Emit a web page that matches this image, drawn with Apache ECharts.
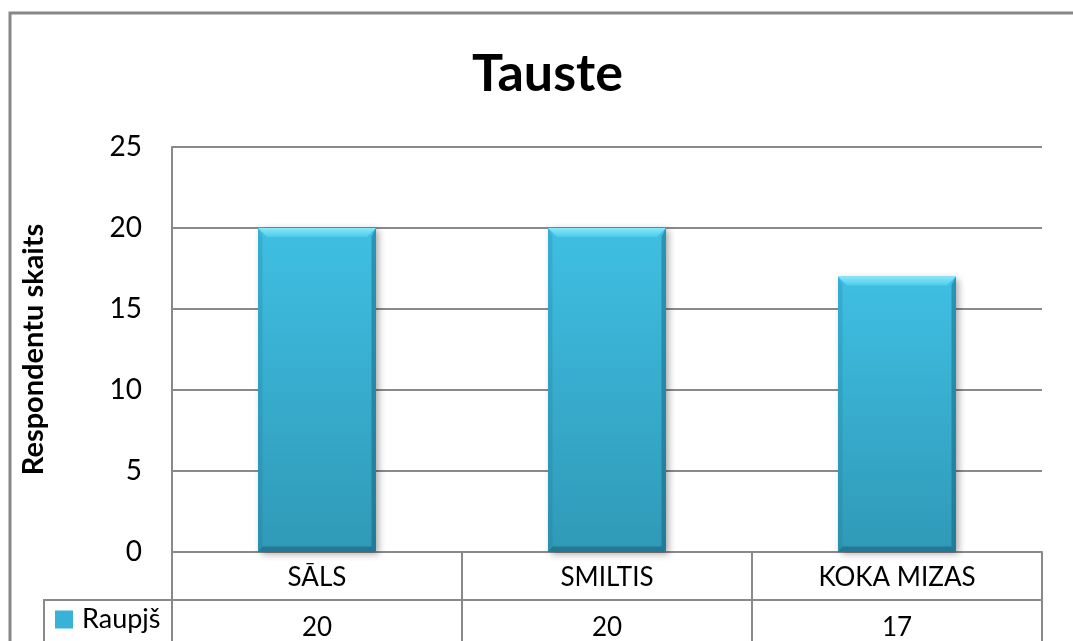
<!DOCTYPE html>
<html>
<head>
<meta charset="utf-8">
<script src="https://cdn.jsdelivr.net/npm/echarts@6/dist/echarts.min.js"></script>
<style>
  html, body { margin: 0; padding: 0; background: #ffffff; }
  #chart { width: 1073px; height: 641px; }
</style>
</head>
<body>
<div id="chart"></div>
<script>
// Chart content
const titleText = 'Tauste';
const yAxisTitle = 'Respondentu skaits';
const seriesName = 'Raupjš';
const categories = ['SĀLS', 'SMILTIS', 'KOKA MIZAS'];
const values = [20, 20, 17];
const yTicks = { min: 0, max: 25, interval: 5 };

const FONT = 'Lato, "Open Sans", sans-serif';
const LINE = '#898989';
const BAR_SHARE = 0.407;   // bar width as a share of the category band
const BEVEL = 9;           // bevel depth in px

const chart = echarts.init(document.getElementById('chart'), null, { renderer: 'canvas' });

// Bevelled column: a face plus four edge facets, all placed through the axes
function renderBevelBar(params, api) {
  const topPt = api.coord([api.value(0), api.value(1)]);
  const basePt = api.coord([api.value(0), 0]);
  const w = api.size([1, 0])[0] * BAR_SHARE;
  const l = topPt[0] - w / 2, r = topPt[0] + w / 2;
  const t = topPt[1], b = basePt[1];
  const d = Math.min(BEVEL, (b - t) / 2);
  const grad = (x0, y0, x1, y1, stops) => new echarts.graphic.LinearGradient(x0, y0, x1, y1, stops);
  return {
    type: 'group',
    children: [
      { type: 'rect', shape: { x: l, y: t, width: w, height: b - t },
        style: {
          fill: grad(0, 0, 0, 1, [{ offset: 0, color: '#3FBFE3' }, { offset: 1, color: '#3099B7' }]),
          shadowColor: 'rgba(0,0,0,0.35)', shadowBlur: 7, shadowOffsetX: 3, shadowOffsetY: 2
        } },
      { type: 'polygon', shape: { points: [[l, t], [r, t], [r - d, t + d], [l + d, t + d]] },
        style: { fill: grad(0, 0, 0, 1, [{ offset: 0, color: '#86E9FA' }, { offset: 1, color: '#4CCBEA' }]) } },
      { type: 'polygon', shape: { points: [[l, t], [l + d * 0.5, t + d], [l + d * 0.5, b - d * 0.6], [l, b]] },
        style: { fill: 'rgba(20,110,140,0.2)' } },
      { type: 'polygon', shape: { points: [[r, t], [r, b], [r - d * 0.5, b - d * 0.6], [r - d * 0.5, t + d]] },
        style: { fill: 'rgba(10,70,95,0.35)' } },
      { type: 'polygon', shape: { points: [[l, b], [r, b], [r - d * 0.5, b - d * 0.6], [l + d * 0.5, b - d * 0.6]] },
        style: { fill: 'rgba(10,60,85,0.35)' } }
    ]
  };
}

chart.setOption({
  animation: false,
  backgroundColor: '#ffffff',
  title: {
    text: titleText,
    left: 472,
    top: 48,
    padding: 0,
    textStyle: { fontFamily: FONT, fontSize: 52, fontWeight: 'bold', color: '#000' }
  },
  legend: {
    data: [seriesName],
    left: 55,
    top: 606,
    padding: 0,
    icon: 'rect',
    itemWidth: 18,
    itemHeight: 18,
    itemGap: 8,
    textStyle: { fontFamily: FONT, fontSize: 27, color: '#000', padding: [0, 0, 0, 4] }
  },
  grid: { left: 172, right: 31, top: 147, bottom: 89 },
  xAxis: [
    {
      type: 'category',
      data: categories,
      position: 'bottom',
      axisLine: { show: true, lineStyle: { color: LINE, width: 2 } },
      axisTick: { show: true, length: 48, lineStyle: { color: LINE, width: 2 } },
      axisLabel: { margin: 13, fontFamily: FONT, fontSize: 26, color: '#000' }
    },
    {
      type: 'category',
      data: values.map(String),
      position: 'bottom',
      offset: 48,
      axisLine: { show: true, lineStyle: { color: LINE, width: 2 } },
      axisTick: { show: true, length: 45, lineStyle: { color: LINE, width: 2 } },
      axisLabel: { margin: 15, fontFamily: FONT, fontSize: 26, color: '#000' }
    }
  ],
  yAxis: {
    type: 'value',
    min: yTicks.min,
    max: yTicks.max,
    interval: yTicks.interval,
    name: yAxisTitle,
    nameLocation: 'middle',
    nameRotate: 90,
    nameGap: 124,
    nameTextStyle: { fontFamily: FONT, fontSize: 29, fontWeight: 'bold', color: '#000' },
    axisLine: { show: true, lineStyle: { color: LINE, width: 2 } },
    axisTick: { show: false },
    splitLine: { show: true, lineStyle: { color: LINE, width: 2 } },
    axisLabel: { margin: 30, fontFamily: FONT, fontSize: 28, color: '#000' }
  },
  graphic: [
    // outer chart frame (top and left edges)
    { type: 'rect', silent: true, z: -1,
      shape: { x: 10, y: 13, width: 1200, height: 800 },
      style: { fill: 'none', stroke: '#878787', lineWidth: 3 } },
    // legend key cell of the data table
    { type: 'polyline', silent: true,
      shape: { points: [[172, 600], [44, 600], [44, 645]] },
      style: { fill: 'none', stroke: LINE, lineWidth: 2 } }
  ],
  series: [{
    name: seriesName,
    type: 'custom',
    xAxisIndex: 0,
    yAxisIndex: 0,
    data: values.map((v, i) => [i, v]),
    encode: { x: 0, y: 1 },
    itemStyle: { color: '#38B2D6' },
    renderItem: renderBevelBar
  }]
});
</script>
</body>
</html>
